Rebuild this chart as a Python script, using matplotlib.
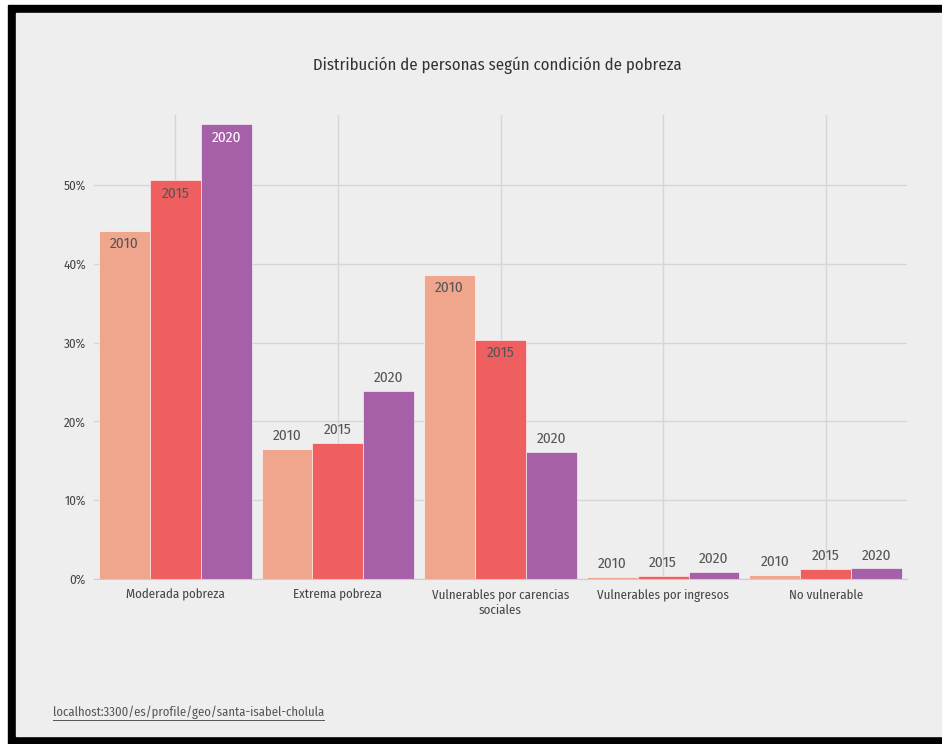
import matplotlib
matplotlib.use("Agg")
import matplotlib.pyplot as plt
from matplotlib.patches import Rectangle
from matplotlib.lines import Line2D
from matplotlib import font_manager
import numpy as np

available = {f.name for f in font_manager.fontManager.ttflist}
candidates = ['Fira Sans Condensed', 'Roboto Condensed', 'Open Sans Condensed',
              'Liberation Sans Narrow', 'Roboto', 'DejaVu Sans']
main_font = [f for f in candidates if f in available][0]
condensed = main_font in ('Fira Sans Condensed', 'Roboto Condensed', 'Open Sans Condensed',
                          'Liberation Sans Narrow')
plt.rcParams['font.family'] = [main_font, 'DejaVu Sans']
scale = 1.0 if condensed else 0.9

categories = ["Moderada pobreza", "Extrema pobreza", "Vulnerables por carencias\nsociales",
              "Vulnerables por ingresos", "No vulnerable"]
years = ["2010", "2015", "2020"]
v2010 = [44.2, 16.5, 38.6, 0.25, 0.5]
v2015 = [50.6, 17.3, 30.3, 0.4, 1.3]
v2020 = [57.7, 23.9, 16.1, 0.9, 1.35]
colors = ["#F0A68C", "#F05F5F", "#A660A8"]
inside_text = ["#555555", "#555555", "#ffffff"]

bg = "#eeeeee"
fig = plt.figure(figsize=(9.42, 7.44), dpi=100)
fig.patch.set_facecolor("white")

# screenshot frame: thin white margin, black border on top, left and bottom
fig.patches.append(Rectangle((8/942, 0), 1, 1 - 5/744, transform=fig.transFigure,
                             color="black", zorder=-10))
fig.patches.append(Rectangle((16/942, 8/744), 1 - 16/942, 1 - 8/744 - 13/744,
                             transform=fig.transFigure, color=bg, zorder=-9))

ax = fig.add_axes([94/942, 1 - 579/744, (907 - 94)/942, (579 - 115)/744])
ax.set_facecolor(bg)
ax.patch.set_alpha(0)

x = np.arange(len(categories))
w = 0.313
series = [v2010, v2015, v2020]
for i, vals in enumerate(series):
    xs = x + (i - 1) * w
    ax.bar(xs, vals, width=w, color=colors[i], edgecolor="#ffffff", linewidth=0.4, zorder=3)
    for xi, v in zip(xs, vals):
        if v > 25:
            ax.annotate(years[i], (xi, v), xytext=(0, -13), textcoords="offset pixels",
                        ha="center", va="center", fontsize=11 * scale, color=inside_text[i], zorder=4)
        else:
            ax.annotate(years[i], (xi, v), xytext=(0, 13), textcoords="offset pixels",
                        ha="center", va="center", fontsize=11 * scale, color="#555555", zorder=4)

ax.set_xlim(-0.5, 4.5)
ax.set_ylim(0, 58.9)
ax.set_yticks([0, 10, 20, 30, 40, 50])
ax.set_yticklabels(["0%", "10%", "20%", "30%", "40%", "50%"])
ax.set_xticks(x)
ax.set_xticklabels(categories, linespacing=1.25)
ax.tick_params(axis="both", length=0, labelsize=9.3 * scale, labelcolor="#444444")
ax.tick_params(axis="y", pad=6)
ax.tick_params(axis="x", pad=7)
ax.grid(True, color="#d6d6d6", linewidth=1, zorder=0)
for s in ["top", "right", "left"]:
    ax.spines[s].set_visible(False)
ax.spines["bottom"].set_color("#cccccc")
ax.spines["bottom"].set_zorder(5)

fig.text(497/942, 1 - 65/744, "Distribución de personas según condición de pobreza",
         ha="center", va="center", fontsize=12 * scale, color="#333333")

url = fig.text(53/942, 1 - 712/744, "localhost:3300/es/profile/geo/santa-isabel-cholula",
               ha="left", va="center", fontsize=9.1 * scale, color="#555555")
fig.canvas.draw()
bb = url.get_window_extent().transformed(fig.transFigure.inverted())
fig.add_artist(Line2D([bb.x0, bb.x1], [bb.y0 - 1/744, bb.y0 - 1/744], transform=fig.transFigure,
                      color="#555555", linewidth=0.7))

fig.savefig("out.png", dpi=100, facecolor=fig.get_facecolor())
